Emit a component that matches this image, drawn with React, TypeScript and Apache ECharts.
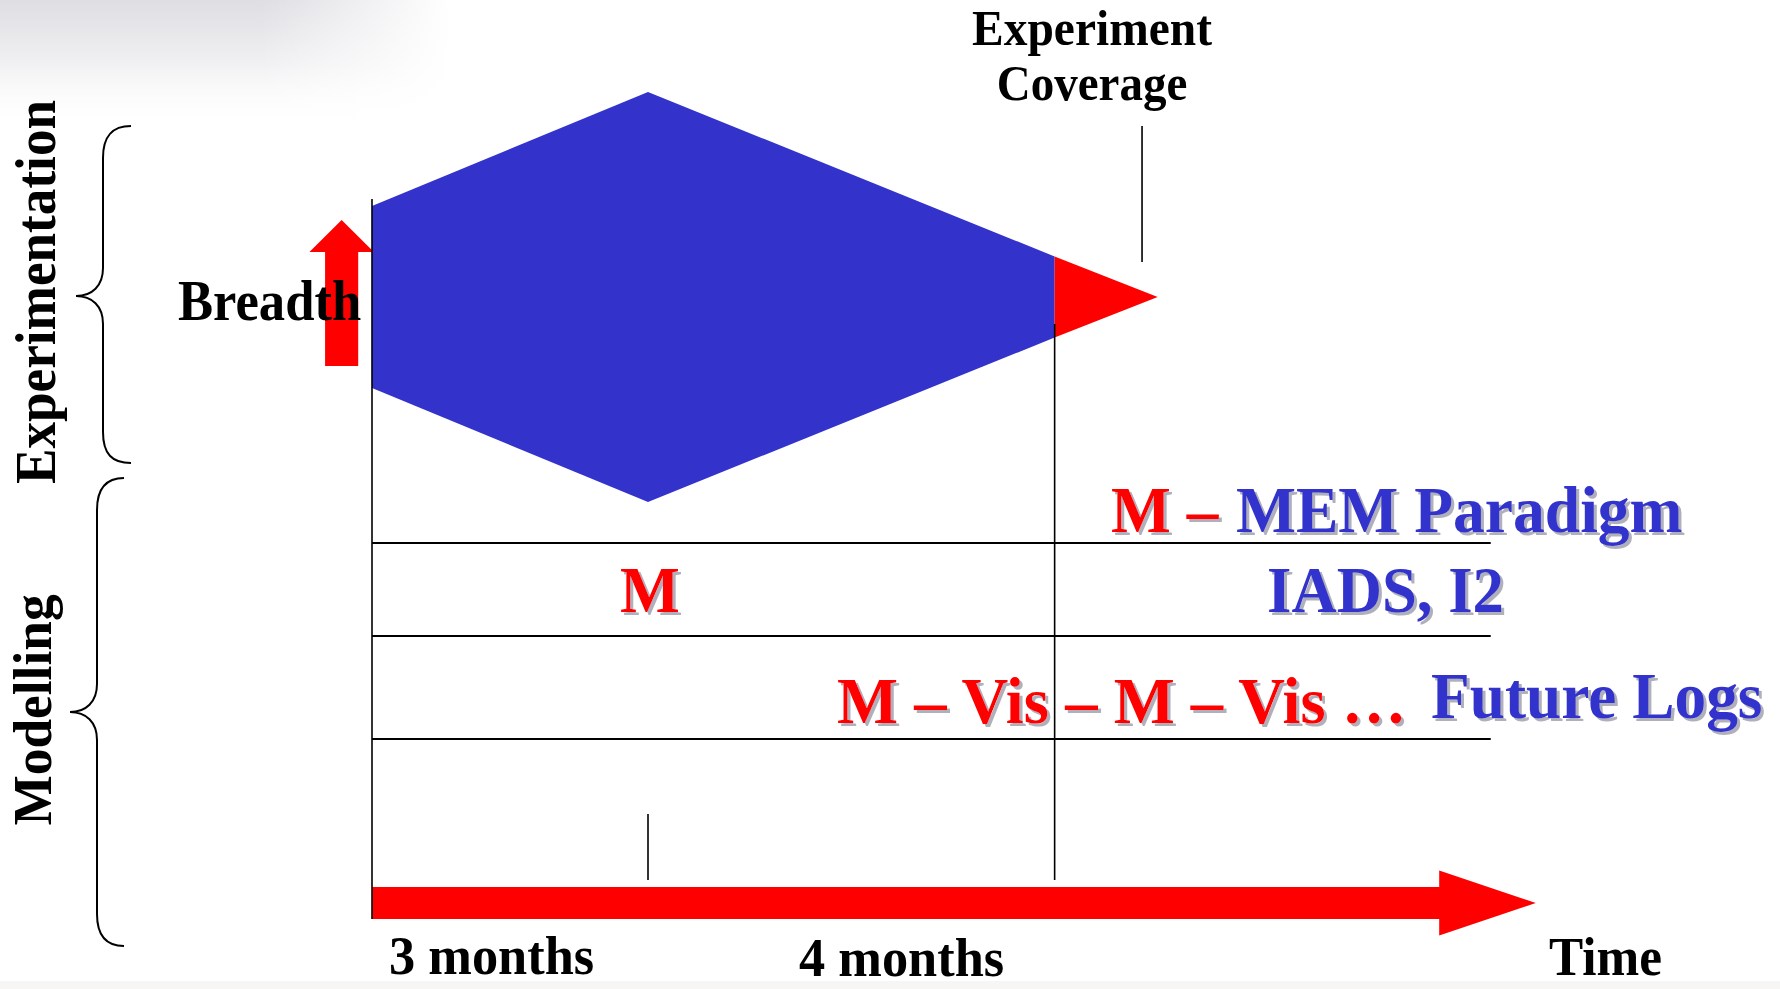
import React, { useEffect, useRef } from 'react';
import * as echarts from 'echarts';

// Palette
const BLUE = '#3333cc';
const RED = '#ff0000';
const INK = '#000000';
const SERIF = '"Liberation Serif", "Times New Roman", serif';

// Time axis is in months, the vertical axis is an abstract breadth / lane unit.
const phaseBounds = [0, 3, 7.42]; // start, end of first phase, end of second phase
const phaseLabels = ['3 months', '4 months'];

// Experimentation breadth profile (half-width about the band centre)
const breadthTime = [0, 3, 7.42, 8.54];
const breadthHalfWidth = [9.1, 20.5, 4.05, 0];
const breadthCentre = 60.6;

// Modelling lanes
const laneLevels = [36, 26.7, 16.4];
const laneEnd = 12.16;

// Marker for the experiment coverage call-out
const coverageTime = 8.37;
const coverageSpan = [64.1, 77.7];

// Time arrow (start, shaft end, tip) and half thicknesses (shaft, head)
const timeArrowX = [0, 11.6, 12.65];
const timeArrowHalf = [1.6, 3.25];

// Breadth arrow (centre x, shaft half, head half) and (bottom, head base, tip)
const breadthArrowX = [-0.33, 0.18, 0.35];
const breadthArrowY = [53.7, 65.1, 68.3];

// Extents of the vertical guide lines
const axisSpan = [-1.6, 70.4];
const phaseEndSpan = [2.3, 57.9];
const tickSpan = [2.3, 8.9];

type Poly = { color: string; points: number[][] };

const [t0, t1, t2, t3] = breadthTime;
const [h0, h1, h2] = breadthHalfWidth;
const c = breadthCentre;

const polygons: Poly[] = [
  {
    color: BLUE,
    points: [
      [t0, c + h0], [t1, c + h1], [t2, c + h2],
      [t2, c - h2], [t1, c - h1], [t0, c - h0],
    ],
  },
  { color: RED, points: [[t2, c + h2], [t3, c], [t2, c - h2]] },
  {
    color: RED,
    points: [
      [timeArrowX[0], timeArrowHalf[0]], [timeArrowX[1], timeArrowHalf[0]],
      [timeArrowX[1], timeArrowHalf[1]], [timeArrowX[2], 0],
      [timeArrowX[1], -timeArrowHalf[1]], [timeArrowX[1], -timeArrowHalf[0]],
      [timeArrowX[0], -timeArrowHalf[0]],
    ],
  },
  {
    color: RED,
    points: [
      [breadthArrowX[0] - breadthArrowX[1], breadthArrowY[0]],
      [breadthArrowX[0] - breadthArrowX[1], breadthArrowY[1]],
      [breadthArrowX[0] - breadthArrowX[2], breadthArrowY[1]],
      [breadthArrowX[0], breadthArrowY[2]],
      [breadthArrowX[0] + breadthArrowX[2], breadthArrowY[1]],
      [breadthArrowX[0] + breadthArrowX[1], breadthArrowY[1]],
      [breadthArrowX[0] + breadthArrowX[1], breadthArrowY[0]],
    ],
  },
];

// [x1, y1, x2, y2, lineWidth]
const segments: number[][] = [
  [phaseBounds[0], axisSpan[0], phaseBounds[0], axisSpan[1], 1.6],
  [phaseBounds[2], phaseEndSpan[0], phaseBounds[2], phaseEndSpan[1], 1.6],
  [phaseBounds[1], tickSpan[0], phaseBounds[1], tickSpan[1], 1.6],
  [coverageTime, coverageSpan[0], coverageTime, coverageSpan[1], 1.6],
  ...laneLevels.map((y) => [phaseBounds[0], y, laneEnd, y, 2.2]),
];

// Curly braces grouping the two activity bands
const braceExp =
  'M131,126 C112,126 103,136 103,158 L103,268 C103,286 92,296 76,296 C92,296 103,306 103,324 L103,432 C103,454 112,463 131,463';
const braceMod =
  'M124,478 C106,478 97,488 97,510 L97,684 C97,702 86,712 70,712 C86,712 97,722 97,740 L97,914 C97,936 106,946 124,946';
echarts.graphic.registerShape('braceExp', echarts.graphic.extendPath(braceExp, {}));
echarts.graphic.registerShape('braceMod', echarts.graphic.extendPath(braceMod, {}));

type LabelOpts = {
  size?: number;
  color?: string;
  align?: 'left' | 'center' | 'right';
  rotation?: number;
  squeeze?: number;
  shadow?: boolean;
};

function label(text: string, x: number, y: number, o: LabelOpts = {}) {
  const size = o.size ?? 55;
  const align = o.align ?? 'left';
  const style: any = {
    text,
    fill: o.color ?? INK,
    font: `bold ${size}px ${SERIF}`,
    textAlign: align,
    align,
    textVerticalAlign: 'middle',
    verticalAlign: 'middle',
  };
  if (o.shadow) {
    style.textShadowColor = 'rgba(150,150,165,0.75)';
    style.textShadowOffsetX = 3;
    style.textShadowOffsetY = 3;
    style.textShadowBlur = 1;
  }
  return {
    type: 'text',
    x,
    y,
    z: 100,
    rotation: o.rotation ?? 0,
    scaleX: o.squeeze ?? 0.95,
    style,
  };
}

const ROW = 66;

function buildOption(): echarts.EChartsOption {
  return {
    animation: false,
    backgroundColor: '#ffffff',
    grid: { left: 372, top: 3, width: 1380, height: 980 },
    xAxis: { type: 'value', min: 0, max: 15, show: false },
    yAxis: { type: 'value', min: -8, max: 90, show: false },
    series: [
      {
        type: 'custom',
        z: 2,
        clip: false,
        data: polygons.map((p) => p.points[0]),
        renderItem: (params: any, api: any) => {
          const poly = polygons[params.dataIndex];
          return {
            type: 'polygon',
            shape: { points: poly.points.map((p) => api.coord(p)) },
            style: { fill: poly.color },
          };
        },
      } as any,
      {
        type: 'custom',
        z: 3,
        clip: false,
        data: segments.map((s) => [s[0], s[1]]),
        renderItem: (params: any, api: any) => {
          const s = segments[params.dataIndex];
          const a = api.coord([s[0], s[1]]);
          const b = api.coord([s[2], s[3]]);
          return {
            type: 'line',
            shape: { x1: a[0], y1: a[1], x2: b[0], y2: b[1] },
            style: { stroke: INK, lineWidth: s[4] },
          };
        },
      } as any,
    ],
    graphic: [
      // soft grey haze in the upper-left corner
      {
        type: 'rect',
        z: -100,
        shape: { x: 0, y: 0, width: 450, height: 130 },
        style: {
          fill: new echarts.graphic.LinearGradient(0, 0, 0, 1, [
            { offset: 0, color: '#dedee3' },
            { offset: 0.5, color: '#f1f1f3' },
            { offset: 1, color: 'rgba(255,255,255,0)' },
          ]),
        },
      },
      {
        type: 'rect',
        z: -99,
        shape: { x: 260, y: 0, width: 190, height: 130 },
        style: {
          fill: new echarts.graphic.LinearGradient(0, 0, 1, 0, [
            { offset: 0, color: 'rgba(255,255,255,0)' },
            { offset: 1, color: '#ffffff' },
          ]),
        },
      },
      {
        type: 'rect',
        z: -100,
        shape: { x: 0, y: 981, width: 1780, height: 8 },
        style: { fill: '#f8f5f5' },
      },
      { type: 'braceExp', x: 0, y: 0, z: 50, style: { stroke: INK, fill: 'none', lineWidth: 2 } } as any,
      { type: 'braceMod', x: 0, y: 0, z: 50, style: { stroke: INK, fill: 'none', lineWidth: 2 } } as any,

      label('Experimentation', 36, 292, { rotation: Math.PI / 2, align: 'center', size: 56 }),
      label('Modelling', 33, 710, { rotation: Math.PI / 2, align: 'center', size: 55, squeeze: 0.97 }),
      label('Breadth', 178, 301, { size: 56, squeeze: 0.94 }),
      label('Experiment', 1092, 28.5, { align: 'center', size: 50 }),
      label('Coverage', 1092, 83, { align: 'center', size: 50, squeeze: 0.94 }),

      label('M', 650, 589.5, { align: 'center', size: ROW, color: RED, shadow: true, squeeze: 0.96 }),
      label('M –', 1111, 510, { size: ROW, color: RED, shadow: true, squeeze: 0.96 }),
      label('MEM Paradigm', 1236, 510, { size: ROW, color: BLUE, shadow: true, squeeze: 0.963 }),
      label('IADS, I2', 1267, 589.5, { size: ROW, color: BLUE, shadow: true, squeeze: 0.95 }),
      label('M – Vis – M – Vis …', 837, 700.5, { size: ROW, color: RED, shadow: true, squeeze: 0.98 }),
      label('Future Logs', 1431, 695.5, { size: ROW, color: BLUE, shadow: true, squeeze: 0.96 }),

      label(phaseLabels[0], 389, 956, { size: 54, squeeze: 0.97 }),
      label(phaseLabels[1], 799, 958, { size: 54, squeeze: 0.97 }),
      label('Time', 1549, 957, { size: 54, squeeze: 0.95 }),
    ] as any,
  };
}

export default function App() {
  const ref = useRef<HTMLDivElement>(null);
  useEffect(() => {
    if (!ref.current) return;
    const chart = echarts.init(ref.current, null, { renderer: 'svg' });
    chart.setOption(buildOption());
    return () => chart.dispose();
  }, []);
  return (
    <div
      ref={ref}
      style={{ position: 'fixed', left: 0, top: 0, width: 1780, height: 989, background: '#fff' }}
    />
  );
}
